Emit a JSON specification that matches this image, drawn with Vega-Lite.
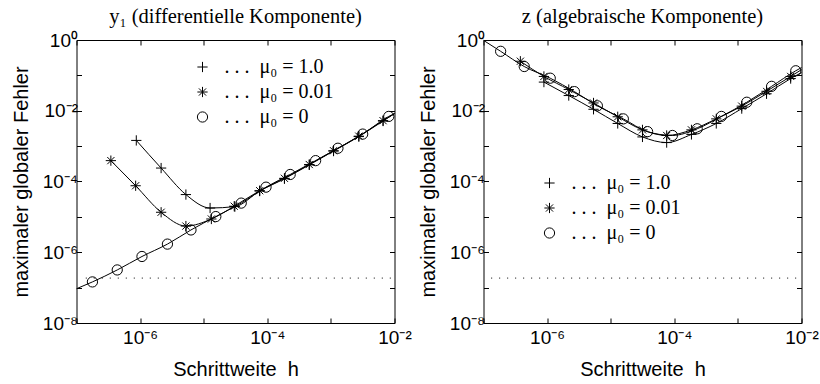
{
  "$schema": "https://vega.github.io/schema/vega-lite/v6.json",
  "background": "white",
  "padding": {"left": 10.5, "top": 6, "right": 5, "bottom": 5},
  "config": {
    "view": {"stroke": "black", "strokeWidth": 1},
    "axis": {"grid": false, "domain": false, "tickColor": "black", "tickSize": -5, "tickWidth": 1,
      "labelFont": "Liberation Sans", "labelFontSize": 19, "labelColor": "black", "labelFlush": false, "labelOverlap": false, "labelPadding": 8,
      "titleFont": "Liberation Sans", "titleFontSize": 20, "titleFontWeight": "normal", "titleColor": "black"},
    "axisX": {"titlePadding": 12, "labelPadding": 10},
    "axisY": {"titlePadding": 10.5, "labelPadding": 4},
    "title": {"font": "Liberation Serif", "fontSize": 20.5, "fontWeight": "normal", "color": "black", "offset": 4, "frame": "group"},
    "legend": {"labelFont": "Liberation Serif", "labelFontSize": 20, "labelColor": "black", "symbolStrokeColor": "black", "symbolStrokeWidth": 1, "symbolSize": 105, "rowPadding": 5, "padding": 0, "labelOffset": 12, "labelLimit": 300}
  },
  "datasets": {
    "markers": [
      {"panel": "y1", "mu": "0", "h": 1.78e-7, "err": 1.45e-7},
      {"panel": "y1", "mu": "0", "h": 4.37e-7, "err": 3.16e-7},
      {"panel": "y1", "mu": "0", "h": 1.07e-6, "err": 7.59e-7},
      {"panel": "y1", "mu": "0", "h": 2.69e-6, "err": 1.70e-6},
      {"panel": "y1", "mu": "0", "h": 6.31e-6, "err": 4.27e-6},
      {"panel": "y1", "mu": "0", "h": 1.55e-5, "err": 1.02e-5},
      {"panel": "y1", "mu": "0", "h": 3.89e-5, "err": 2.45e-5},
      {"panel": "y1", "mu": "0", "h": 9.55e-5, "err": 6.92e-5},
      {"panel": "y1", "mu": "0", "h": 2.29e-4, "err": 1.58e-4},
      {"panel": "y1", "mu": "0", "h": 5.75e-4, "err": 3.89e-4},
      {"panel": "y1", "mu": "0", "h": 1.29e-3, "err": 8.71e-4},
      {"panel": "y1", "mu": "0", "h": 3.16e-3, "err": 2.19e-3},
      {"panel": "y1", "mu": "0", "h": 8.13e-3, "err": 6.92e-3},
      {"panel": "y1", "mu": "0.01", "h": 3.47e-7, "err": 3.89e-4},
      {"panel": "y1", "mu": "0.01", "h": 8.51e-7, "err": 7.59e-5},
      {"panel": "y1", "mu": "0.01", "h": 2.14e-6, "err": 1.35e-5},
      {"panel": "y1", "mu": "0.01", "h": 5.25e-6, "err": 5.50e-6},
      {"panel": "y1", "mu": "0.01", "h": 1.32e-5, "err": 8.71e-6},
      {"panel": "y1", "mu": "0.01", "h": 3.02e-5, "err": 2.00e-5},
      {"panel": "y1", "mu": "0.01", "h": 7.59e-5, "err": 5.50e-5},
      {"panel": "y1", "mu": "0.01", "h": 1.86e-4, "err": 1.23e-4},
      {"panel": "y1", "mu": "0.01", "h": 4.57e-4, "err": 3.02e-4},
      {"panel": "y1", "mu": "0.01", "h": 1.10e-3, "err": 7.41e-4},
      {"panel": "y1", "mu": "0.01", "h": 2.75e-3, "err": 1.91e-3},
      {"panel": "y1", "mu": "0.01", "h": 6.61e-3, "err": 5.25e-3},
      {"panel": "y1", "mu": "1.0", "h": 8.71e-7, "err": 1.45e-3},
      {"panel": "y1", "mu": "1.0", "h": 2.14e-6, "err": 2.40e-4},
      {"panel": "y1", "mu": "1.0", "h": 5.25e-6, "err": 4.27e-5},
      {"panel": "y1", "mu": "1.0", "h": 1.26e-5, "err": 1.78e-5},
      {"panel": "y1", "mu": "1.0", "h": 3.09e-5, "err": 1.95e-5},
      {"panel": "y1", "mu": "1.0", "h": 7.59e-5, "err": 5.37e-5},
      {"panel": "y1", "mu": "1.0", "h": 1.86e-4, "err": 1.20e-4},
      {"panel": "y1", "mu": "1.0", "h": 4.57e-4, "err": 2.95e-4},
      {"panel": "y1", "mu": "1.0", "h": 1.10e-3, "err": 7.24e-4},
      {"panel": "y1", "mu": "1.0", "h": 2.75e-3, "err": 1.86e-3},
      {"panel": "y1", "mu": "1.0", "h": 6.61e-3, "err": 5.13e-3},
      {"panel": "z", "mu": "0", "h": 1.86e-7, "err": 0.479},
      {"panel": "z", "mu": "0", "h": 4.37e-7, "err": 0.178},
      {"panel": "z", "mu": "0", "h": 1.12e-6, "err": 8.32e-2},
      {"panel": "z", "mu": "0", "h": 2.69e-6, "err": 3.47e-2},
      {"panel": "z", "mu": "0", "h": 6.17e-6, "err": 1.38e-2},
      {"panel": "z", "mu": "0", "h": 1.58e-5, "err": 5.89e-3},
      {"panel": "z", "mu": "0", "h": 3.80e-5, "err": 2.57e-3},
      {"panel": "z", "mu": "0", "h": 9.33e-5, "err": 2.00e-3},
      {"panel": "z", "mu": "0", "h": 2.29e-4, "err": 3.09e-3},
      {"panel": "z", "mu": "0", "h": 5.50e-4, "err": 6.92e-3},
      {"panel": "z", "mu": "0", "h": 1.38e-3, "err": 1.74e-2},
      {"panel": "z", "mu": "0", "h": 3.39e-3, "err": 4.90e-2},
      {"panel": "z", "mu": "0", "h": 8.13e-3, "err": 0.135},
      {"panel": "z", "mu": "0.01", "h": 3.80e-7, "err": 0.251},
      {"panel": "z", "mu": "0.01", "h": 8.91e-7, "err": 9.33e-2},
      {"panel": "z", "mu": "0.01", "h": 2.19e-6, "err": 3.98e-2},
      {"panel": "z", "mu": "0.01", "h": 5.37e-6, "err": 1.66e-2},
      {"panel": "z", "mu": "0.01", "h": 1.29e-5, "err": 6.76e-3},
      {"panel": "z", "mu": "0.01", "h": 3.16e-5, "err": 2.88e-3},
      {"panel": "z", "mu": "0.01", "h": 7.59e-5, "err": 2.00e-3},
      {"panel": "z", "mu": "0.01", "h": 1.86e-4, "err": 2.88e-3},
      {"panel": "z", "mu": "0.01", "h": 4.57e-4, "err": 5.89e-3},
      {"panel": "z", "mu": "0.01", "h": 1.15e-3, "err": 1.35e-2},
      {"panel": "z", "mu": "0.01", "h": 2.82e-3, "err": 3.55e-2},
      {"panel": "z", "mu": "0.01", "h": 6.76e-3, "err": 9.33e-2},
      {"panel": "z", "mu": "1.0", "h": 8.91e-7, "err": 6.46e-2},
      {"panel": "z", "mu": "1.0", "h": 2.19e-6, "err": 2.69e-2},
      {"panel": "z", "mu": "1.0", "h": 5.37e-6, "err": 1.10e-2},
      {"panel": "z", "mu": "1.0", "h": 1.29e-5, "err": 4.37e-3},
      {"panel": "z", "mu": "1.0", "h": 3.16e-5, "err": 1.82e-3},
      {"panel": "z", "mu": "1.0", "h": 7.59e-5, "err": 1.26e-3},
      {"panel": "z", "mu": "1.0", "h": 1.86e-4, "err": 2.14e-3},
      {"panel": "z", "mu": "1.0", "h": 4.57e-4, "err": 4.37e-3},
      {"panel": "z", "mu": "1.0", "h": 1.15e-3, "err": 1.15e-2},
      {"panel": "z", "mu": "1.0", "h": 2.82e-3, "err": 3.02e-2},
      {"panel": "z", "mu": "1.0", "h": 6.76e-3, "err": 8.13e-2}
    ],
    "curves": [
      {"panel": "y1", "mu": "0", "h": 1e-7, "err": 9.3e-8},
      {"panel": "y1", "mu": "0", "h": 1.78e-7, "err": 1.45e-7},
      {"panel": "y1", "mu": "0", "h": 4.37e-7, "err": 3.16e-7},
      {"panel": "y1", "mu": "0", "h": 1.07e-6, "err": 7.59e-7},
      {"panel": "y1", "mu": "0", "h": 2.69e-6, "err": 1.70e-6},
      {"panel": "y1", "mu": "0", "h": 6.31e-6, "err": 4.27e-6},
      {"panel": "y1", "mu": "0", "h": 1.55e-5, "err": 1.02e-5},
      {"panel": "y1", "mu": "0", "h": 3.89e-5, "err": 2.45e-5},
      {"panel": "y1", "mu": "0", "h": 9.55e-5, "err": 6.92e-5},
      {"panel": "y1", "mu": "0", "h": 2.29e-4, "err": 1.58e-4},
      {"panel": "y1", "mu": "0", "h": 5.75e-4, "err": 3.89e-4},
      {"panel": "y1", "mu": "0", "h": 1.29e-3, "err": 8.71e-4},
      {"panel": "y1", "mu": "0", "h": 3.16e-3, "err": 2.19e-3},
      {"panel": "y1", "mu": "0", "h": 8.13e-3, "err": 6.92e-3},
      {"panel": "y1", "mu": "0", "h": 1e-2, "err": 8.3e-3},
      {"panel": "y1", "mu": "0.01", "h": 3.47e-7, "err": 3.89e-4},
      {"panel": "y1", "mu": "0.01", "h": 8.51e-7, "err": 7.59e-5},
      {"panel": "y1", "mu": "0.01", "h": 2.14e-6, "err": 1.35e-5},
      {"panel": "y1", "mu": "0.01", "h": 5.25e-6, "err": 5.50e-6},
      {"panel": "y1", "mu": "0.01", "h": 1.32e-5, "err": 8.71e-6},
      {"panel": "y1", "mu": "0.01", "h": 3.02e-5, "err": 2.00e-5},
      {"panel": "y1", "mu": "0.01", "h": 7.59e-5, "err": 5.50e-5},
      {"panel": "y1", "mu": "0.01", "h": 1.86e-4, "err": 1.23e-4},
      {"panel": "y1", "mu": "0.01", "h": 4.57e-4, "err": 3.02e-4},
      {"panel": "y1", "mu": "0.01", "h": 1.10e-3, "err": 7.41e-4},
      {"panel": "y1", "mu": "0.01", "h": 2.75e-3, "err": 1.91e-3},
      {"panel": "y1", "mu": "0.01", "h": 6.61e-3, "err": 5.25e-3},
      {"panel": "y1", "mu": "0.01", "h": 1e-2, "err": 8.3e-3},
      {"panel": "y1", "mu": "1.0", "h": 8.71e-7, "err": 1.45e-3},
      {"panel": "y1", "mu": "1.0", "h": 2.14e-6, "err": 2.40e-4},
      {"panel": "y1", "mu": "1.0", "h": 5.25e-6, "err": 4.27e-5},
      {"panel": "y1", "mu": "1.0", "h": 1.26e-5, "err": 1.78e-5},
      {"panel": "y1", "mu": "1.0", "h": 3.09e-5, "err": 1.95e-5},
      {"panel": "y1", "mu": "1.0", "h": 7.59e-5, "err": 5.37e-5},
      {"panel": "y1", "mu": "1.0", "h": 1.86e-4, "err": 1.20e-4},
      {"panel": "y1", "mu": "1.0", "h": 4.57e-4, "err": 2.95e-4},
      {"panel": "y1", "mu": "1.0", "h": 1.10e-3, "err": 7.24e-4},
      {"panel": "y1", "mu": "1.0", "h": 2.75e-3, "err": 1.86e-3},
      {"panel": "y1", "mu": "1.0", "h": 6.61e-3, "err": 5.13e-3},
      {"panel": "y1", "mu": "1.0", "h": 1e-2, "err": 8.3e-3},
      {"panel": "z", "mu": "0", "h": 1e-7, "err": 0.977},
      {"panel": "z", "mu": "0", "h": 1.86e-7, "err": 0.479},
      {"panel": "z", "mu": "0", "h": 4.37e-7, "err": 0.178},
      {"panel": "z", "mu": "0", "h": 1.12e-6, "err": 8.32e-2},
      {"panel": "z", "mu": "0", "h": 2.69e-6, "err": 3.47e-2},
      {"panel": "z", "mu": "0", "h": 6.17e-6, "err": 1.38e-2},
      {"panel": "z", "mu": "0", "h": 1.58e-5, "err": 5.89e-3},
      {"panel": "z", "mu": "0", "h": 3.80e-5, "err": 2.57e-3},
      {"panel": "z", "mu": "0", "h": 9.33e-5, "err": 2.00e-3},
      {"panel": "z", "mu": "0", "h": 2.29e-4, "err": 3.09e-3},
      {"panel": "z", "mu": "0", "h": 5.50e-4, "err": 6.92e-3},
      {"panel": "z", "mu": "0", "h": 1.38e-3, "err": 1.74e-2},
      {"panel": "z", "mu": "0", "h": 3.39e-3, "err": 4.90e-2},
      {"panel": "z", "mu": "0", "h": 8.13e-3, "err": 0.135},
      {"panel": "z", "mu": "0", "h": 1e-2, "err": 0.166},
      {"panel": "z", "mu": "0.01", "h": 3.80e-7, "err": 0.251},
      {"panel": "z", "mu": "0.01", "h": 8.91e-7, "err": 9.33e-2},
      {"panel": "z", "mu": "0.01", "h": 2.19e-6, "err": 3.98e-2},
      {"panel": "z", "mu": "0.01", "h": 5.37e-6, "err": 1.66e-2},
      {"panel": "z", "mu": "0.01", "h": 1.29e-5, "err": 6.76e-3},
      {"panel": "z", "mu": "0.01", "h": 3.16e-5, "err": 2.88e-3},
      {"panel": "z", "mu": "0.01", "h": 7.59e-5, "err": 2.00e-3},
      {"panel": "z", "mu": "0.01", "h": 1.86e-4, "err": 2.88e-3},
      {"panel": "z", "mu": "0.01", "h": 4.57e-4, "err": 5.89e-3},
      {"panel": "z", "mu": "0.01", "h": 1.15e-3, "err": 1.35e-2},
      {"panel": "z", "mu": "0.01", "h": 2.82e-3, "err": 3.55e-2},
      {"panel": "z", "mu": "0.01", "h": 6.76e-3, "err": 9.33e-2},
      {"panel": "z", "mu": "0.01", "h": 1e-2, "err": 0.145},
      {"panel": "z", "mu": "1.0", "h": 8.91e-7, "err": 6.46e-2},
      {"panel": "z", "mu": "1.0", "h": 2.19e-6, "err": 2.69e-2},
      {"panel": "z", "mu": "1.0", "h": 5.37e-6, "err": 1.10e-2},
      {"panel": "z", "mu": "1.0", "h": 1.29e-5, "err": 4.37e-3},
      {"panel": "z", "mu": "1.0", "h": 3.16e-5, "err": 1.82e-3},
      {"panel": "z", "mu": "1.0", "h": 7.59e-5, "err": 1.26e-3},
      {"panel": "z", "mu": "1.0", "h": 1.86e-4, "err": 2.14e-3},
      {"panel": "z", "mu": "1.0", "h": 4.57e-4, "err": 4.37e-3},
      {"panel": "z", "mu": "1.0", "h": 1.15e-3, "err": 1.15e-2},
      {"panel": "z", "mu": "1.0", "h": 2.82e-3, "err": 3.02e-2},
      {"panel": "z", "mu": "1.0", "h": 6.76e-3, "err": 8.13e-2},
      {"panel": "z", "mu": "1.0", "h": 1e-2, "err": 0.12}
    ],
    "refs": [
      {"panel": "y1", "h1": 1.4e-7, "h2": 9.3e-3, "err": 1.86e-7},
      {"panel": "z", "h1": 1.32e-7, "h2": 8.3e-3, "err": 1.86e-7}
    ]
  },
  "spacing": 89,
  "bounds": "flush",
  "resolve": {"scale": {"shape": "independent"}, "legend": {"shape": "independent"}},
  "hconcat": [
    {
      "width": 318, "height": 283,
      "title": {"text": "y₁ (differentielle Komponente)"},
      "layer": [
        {
          "data": {"name": "curves"},
          "transform": [{"filter": "datum.panel == 'y1'"}],
          "mark": {"type": "line", "color": "black", "strokeWidth": 1, "interpolate": "monotone"},
          "encoding": {
            "x": {"field": "h", "type": "quantitative", "scale": {"type": "log", "domain": [1e-7, 1e-2], "nice": false},
              "axis": {"orient": "bottom", "values": [1e-7, 1e-6, 1e-5, 1e-4, 1e-3, 1e-2], "title": "Schrittweite\u00a0 h",
                "labelExpr": "round(log(datum.value)/LN10) == -6 ? '10⁻⁶' : round(log(datum.value)/LN10) == -4 ? '10⁻⁴' : round(log(datum.value)/LN10) == -2 ? '10⁻²' : ''"}},
            "y": {"field": "err", "type": "quantitative", "scale": {"type": "log", "domain": [1e-8, 1], "nice": false},
              "axis": {"orient": "left", "values": [1e-8, 1e-7, 1e-6, 1e-5, 1e-4, 1e-3, 1e-2, 1e-1, 1], "title": "maximaler globaler Fehler",
                "labelExpr": "round(log(datum.value)/LN10) == 0 ? '10⁰' : round(log(datum.value)/LN10) == -2 ? '10⁻²' : round(log(datum.value)/LN10) == -4 ? '10⁻⁴' : round(log(datum.value)/LN10) == -6 ? '10⁻⁶' : round(log(datum.value)/LN10) == -8 ? '10⁻⁸' : ''"}},
            "detail": {"field": "mu", "type": "nominal"}
          }
        },
        {
          "data": {"name": "markers"},
          "transform": [{"filter": "datum.panel == 'y1'"}],
          "mark": {"type": "point", "filled": false, "color": "black", "strokeWidth": 1, "size": 105, "opacity": 1},
          "encoding": {
            "x": {"field": "h", "type": "quantitative", "scale": {"type": "log", "domain": [1e-7, 1e-2], "nice": false},
              "axis": {"orient": "top", "values": [1e-7, 1e-6, 1e-5, 1e-4, 1e-3, 1e-2], "labels": false, "title": null}},
            "y": {"field": "err", "type": "quantitative", "scale": {"type": "log", "domain": [1e-8, 1], "nice": false},
              "axis": {"orient": "right", "values": [1e-8, 1e-7, 1e-6, 1e-5, 1e-4, 1e-3, 1e-2, 1e-1, 1], "labels": false, "title": null}},
            "shape": {"field": "mu", "type": "nominal",
              "scale": {"domain": ["1.0", "0.01", "0"], "range": ["M-1,0L1,0M0,-1L0,1", "M-1,0L1,0M0,-1L0,1M-0.7,-0.7L0.7,0.7M-0.7,0.7L0.7,-0.7", "circle"]},
              "legend": {"title": null, "orient": "none", "legendX": 116, "legendY": 17, "labelFont": "Liberation Serif", "labelFontSize": 20, "labelExpr": "'. . .\u00a0 μ₀ = ' + datum.label"}}
          }
        },
        {
          "data": {"name": "refs"},
          "transform": [{"filter": "datum.panel == 'y1'"}],
          "mark": {"type": "rule", "color": "black", "strokeWidth": 1, "strokeDash": [1, 7]},
          "encoding": {
            "x": {"field": "h1", "type": "quantitative", "scale": {"type": "log", "domain": [1e-7, 1e-2], "nice": false}, "axis": null},
            "x2": {"field": "h2"},
            "y": {"field": "err", "type": "quantitative", "scale": {"type": "log", "domain": [1e-8, 1], "nice": false}, "axis": null}
          }
        }
      ],
      "resolve": {"axis": {"x": "independent", "y": "independent"}}
    },
    {
      "width": 318, "height": 283,
      "title": {"text": "z (algebraische Komponente)"},
      "layer": [
        {
          "data": {"name": "curves"},
          "transform": [{"filter": "datum.panel == 'z'"}],
          "mark": {"type": "line", "color": "black", "strokeWidth": 1, "interpolate": "monotone"},
          "encoding": {
            "x": {"field": "h", "type": "quantitative", "scale": {"type": "log", "domain": [1e-7, 1e-2], "nice": false},
              "axis": {"orient": "bottom", "values": [1e-7, 1e-6, 1e-5, 1e-4, 1e-3, 1e-2], "title": "Schrittweite\u00a0 h",
                "labelExpr": "round(log(datum.value)/LN10) == -6 ? '10⁻⁶' : round(log(datum.value)/LN10) == -4 ? '10⁻⁴' : round(log(datum.value)/LN10) == -2 ? '10⁻²' : ''"}},
            "y": {"field": "err", "type": "quantitative", "scale": {"type": "log", "domain": [1e-8, 1], "nice": false},
              "axis": {"orient": "left", "values": [1e-8, 1e-7, 1e-6, 1e-5, 1e-4, 1e-3, 1e-2, 1e-1, 1], "title": "maximaler globaler Fehler",
                "labelExpr": "round(log(datum.value)/LN10) == 0 ? '10⁰' : round(log(datum.value)/LN10) == -2 ? '10⁻²' : round(log(datum.value)/LN10) == -4 ? '10⁻⁴' : round(log(datum.value)/LN10) == -6 ? '10⁻⁶' : round(log(datum.value)/LN10) == -8 ? '10⁻⁸' : ''"}},
            "detail": {"field": "mu", "type": "nominal"}
          }
        },
        {
          "data": {"name": "markers"},
          "transform": [{"filter": "datum.panel == 'z'"}],
          "mark": {"type": "point", "filled": false, "color": "black", "strokeWidth": 1, "size": 105, "opacity": 1},
          "encoding": {
            "x": {"field": "h", "type": "quantitative", "scale": {"type": "log", "domain": [1e-7, 1e-2], "nice": false},
              "axis": {"orient": "top", "values": [1e-7, 1e-6, 1e-5, 1e-4, 1e-3, 1e-2], "labels": false, "title": null}},
            "y": {"field": "err", "type": "quantitative", "scale": {"type": "log", "domain": [1e-8, 1], "nice": false},
              "axis": {"orient": "right", "values": [1e-8, 1e-7, 1e-6, 1e-5, 1e-4, 1e-3, 1e-2, 1e-1, 1], "labels": false, "title": null}},
            "shape": {"field": "mu", "type": "nominal",
              "scale": {"domain": ["1.0", "0.01", "0"], "range": ["M-1,0L1,0M0,-1L0,1", "M-1,0L1,0M0,-1L0,1M-0.7,-0.7L0.7,0.7M-0.7,0.7L0.7,-0.7", "circle"]},
              "legend": {"title": null, "orient": "none", "legendX": 56, "legendY": 133, "labelFont": "Liberation Serif", "labelFontSize": 20, "labelExpr": "'. . .\u00a0 μ₀ = ' + datum.label"}}
          }
        },
        {
          "data": {"name": "refs"},
          "transform": [{"filter": "datum.panel == 'z'"}],
          "mark": {"type": "rule", "color": "black", "strokeWidth": 1, "strokeDash": [1, 7]},
          "encoding": {
            "x": {"field": "h1", "type": "quantitative", "scale": {"type": "log", "domain": [1e-7, 1e-2], "nice": false}, "axis": null},
            "x2": {"field": "h2"},
            "y": {"field": "err", "type": "quantitative", "scale": {"type": "log", "domain": [1e-8, 1], "nice": false}, "axis": null}
          }
        }
      ],
      "resolve": {"axis": {"x": "independent", "y": "independent"}}
    }
  ]
}
